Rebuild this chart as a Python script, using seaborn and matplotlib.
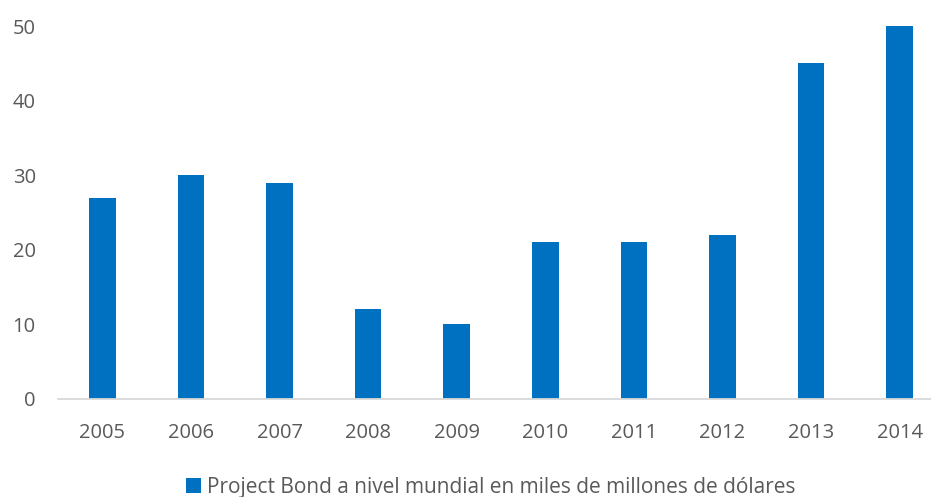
import pandas as pd
import matplotlib.pyplot as plt
import seaborn as sns

# Data
years = ["2005", "2006", "2007", "2008", "2009", "2010", "2011", "2012", "2013", "2014"]
values = [27, 30, 29, 12, 10, 21, 21, 22, 45, 50]
series_name = "Project Bond a nivel mundial en miles de millones de dólares"

df = pd.DataFrame({"Año": years, "Valor": values})

sns.set_style("white")
plt.rcParams["font.family"] = ["Open Sans", "DejaVu Sans"]
text_color = "#595959"

fig = plt.figure(figsize=(9.31, 4.97), dpi=100)
ax = fig.add_axes([58 / 931, 98 / 497, 873 / 931, 373 / 497])

sns.barplot(data=df, x="Año", y="Valor", color="#0070C0", width=0.3,
            saturation=1, linewidth=0, label=series_name, ax=ax)

ax.set_xlim(-0.5, 9.353)
ax.set_ylim(0, 50)
ax.set_yticks(range(0, 51, 10))
ax.set_xlabel("")
ax.set_ylabel("")

for side in ["top", "right", "left"]:
    ax.spines[side].set_visible(False)
ax.spines["bottom"].set_color("#d9d9d9")
ax.spines["bottom"].set_linewidth(1.3)

ax.tick_params(axis="both", length=0, labelsize=14.5, labelcolor=text_color)
ax.tick_params(axis="y", pad=16)
ax.tick_params(axis="x", pad=17)

if ax.legend_:
    ax.legend_.remove()
handles, labels = ax.get_legend_handles_labels()
fig.legend(handles, labels, loc="center", bbox_to_anchor=(0.527, 10 / 497),
           frameon=False, fontsize=15, labelcolor=text_color,
           handlelength=0.7, handleheight=0.7, handletextpad=0.3)

fig.savefig("out.png", dpi=100)
